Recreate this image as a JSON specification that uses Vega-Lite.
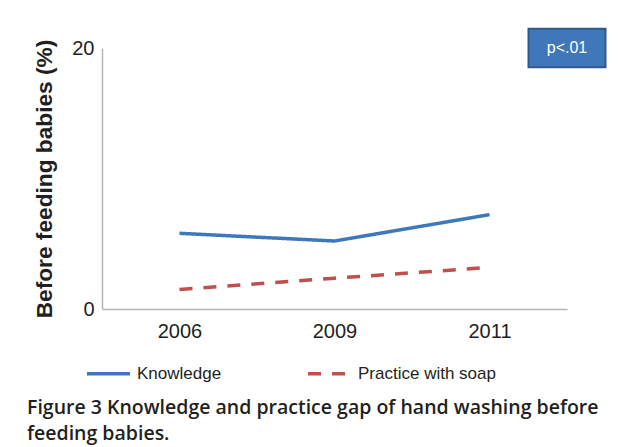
{
  "$schema": "https://vega.github.io/schema/vega-lite/v6.json",
  "width": 465,
  "height": 261,
  "autosize": {"type": "none"},
  "padding": {"left": 102, "top": 48, "right": 62, "bottom": 138},
  "background": "white",
  "config": {"view": {"stroke": null}, "font": "Liberation Sans"},
  "title": {
    "text": ["Figure 3 Knowledge and practice gap of hand washing before", "feeding babies."],
    "orient": "bottom",
    "anchor": "start",
    "frame": "group",
    "dx": -75,
    "offset": 17,
    "font": "Open Sans",
    "fontSize": 19.5,
    "fontWeight": 600,
    "color": "#231f20",
    "lineHeight": 26
  },
  "layer": [
    {
      "data": {
        "values": [
          {"year": "2006", "series": "Knowledge", "percent": 5.8},
          {"year": "2009", "series": "Knowledge", "percent": 5.21},
          {"year": "2011", "series": "Knowledge", "percent": 7.23},
          {"year": "2006", "series": "Practice with soap", "percent": 1.5},
          {"year": "2009", "series": "Practice with soap", "percent": 2.36},
          {"year": "2011", "series": "Practice with soap", "percent": 3.19}
        ]
      },
      "mark": {"type": "line", "strokeWidth": 3.5},
      "encoding": {
        "x": {
          "field": "year",
          "type": "ordinal",
          "scale": {"type": "point", "padding": 0.5},
          "axis": {
            "title": null,
            "ticks": false,
            "labelAngle": 0,
            "labelFontSize": 20,
            "labelPadding": 12,
            "labelColor": "#231f20",
            "domainColor": "#b5b5b5",
            "domainWidth": 1.5
          }
        },
        "y": {
          "field": "percent",
          "type": "quantitative",
          "scale": {"domain": [0, 20]},
          "axis": {
            "values": [0, 20],
            "ticks": false,
            "grid": false,
            "domainColor": "#b5b5b5",
            "domainWidth": 1.5,
            "labelFontSize": 20,
            "labelColor": "#231f20",
            "labelPadding": 8,
            "title": "Before feeding babies (%)",
            "titleFontSize": 22.7,
            "titleFontWeight": "bold",
            "titleColor": "#231f20",
            "titlePadding": 15
          }
        },
        "color": {
          "field": "series",
          "type": "nominal",
          "scale": {"domain": ["Knowledge", "Practice with soap"], "range": ["#3c78bb", "#c0504d"]},
          "legend": {
            "title": null,
            "orient": "none",
            "legendX": -17,
            "legendY": 302,
            "direction": "horizontal",
            "symbolType": "stroke",
            "symbolSize": 1849,
            "symbolStrokeWidth": 3.5,
            "labelFontSize": 17,
            "labelColor": "#231f20",
            "columnPadding": 79,
            "padding": 0,
            "labelOffset": 5
          }
        },
        "strokeDash": {
          "field": "series",
          "type": "nominal",
          "scale": {"domain": ["Knowledge", "Practice with soap"], "range": [[1, 0], [13, 11]]},
          "legend": {
            "title": null,
            "orient": "none",
            "legendX": -17,
            "legendY": 302,
            "direction": "horizontal",
            "symbolType": "stroke",
            "symbolSize": 1849,
            "symbolStrokeWidth": 3.5,
            "labelFontSize": 17,
            "labelColor": "#231f20",
            "columnPadding": 79,
            "padding": 0,
            "labelOffset": 5
          }
        }
      }
    },
    {
      "data": {"values": [{"label": "p<.01"}]},
      "mark": {
        "type": "point",
        "shape": "M-1,-0.5L1,-0.5L1,0.5L-1,0.5Z",
        "size": 5929,
        "filled": true,
        "fill": "#4077b8",
        "stroke": "#2f5b8a",
        "strokeWidth": 2,
        "opacity": 1
      },
      "encoding": {"x": {"value": "width"}, "y": {"datum": 20}}
    },
    {
      "data": {"values": [{"label": "p<.01"}]},
      "mark": {"type": "text", "color": "white", "fontSize": 16, "font": "Liberation Sans"},
      "encoding": {"x": {"value": "width"}, "y": {"datum": 20}, "text": {"field": "label"}}
    }
  ]
}
